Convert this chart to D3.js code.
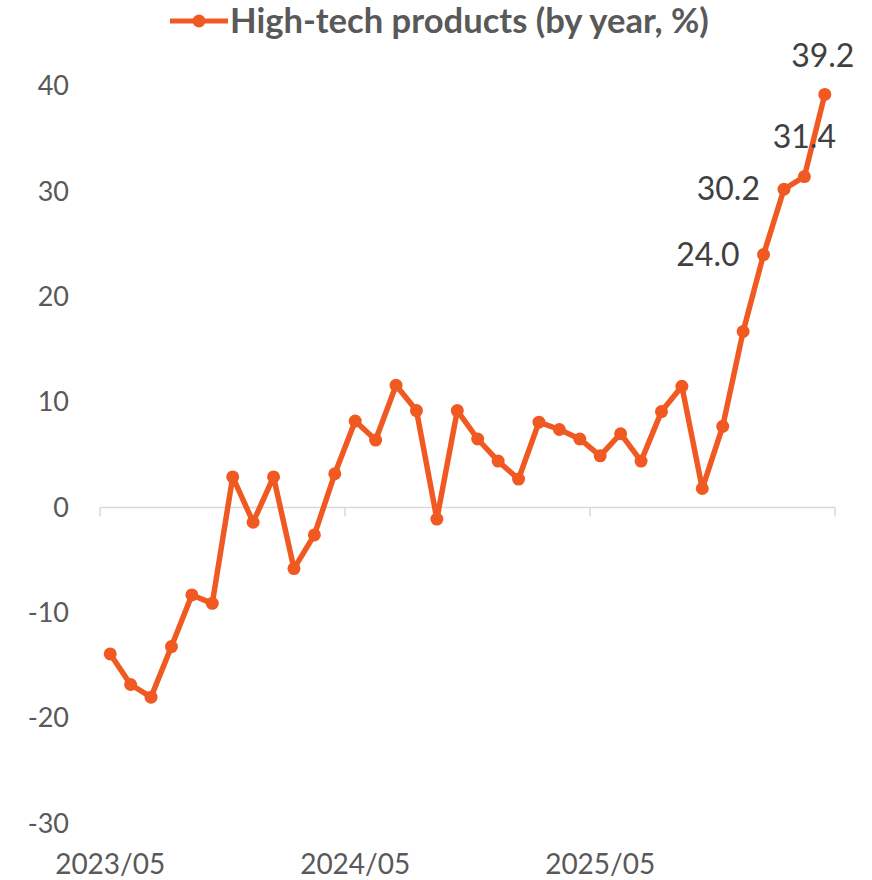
<!DOCTYPE html>
<html>
<head>
<meta charset="utf-8">
<script src="https://cdn.jsdelivr.net/npm/d3@7"></script>
<style>
  body { margin: 0; background: #fff; }
  text { font-family: Lato, "Open Sans", sans-serif; fill: #595959; }
</style>
</head>
<body>
<svg id="chart" width="872" height="880"></svg>
<script>
// categories (monthly)
const months = [
  "2023/05","2023/06","2023/07","2023/08","2023/09","2023/10","2023/11","2023/12",
  "2024/01","2024/02","2024/03","2024/04","2024/05","2024/06","2024/07","2024/08",
  "2024/09","2024/10","2024/11","2024/12","2025/01","2025/02","2025/03","2025/04",
  "2025/05","2025/06","2025/07","2025/08","2025/09","2025/10","2025/11","2025/12",
  "2026/01","2026/02","2026/03","2026/04"
];

// High-tech products, y/y %
const values = [
  -13.9, -16.8, -18.0, -13.2, -8.3, -9.1, 2.9, -1.4,
  2.9, -5.8, -2.6, 3.2, 8.2, 6.4, 11.6, 9.2,
  -1.1, 9.2, 6.5, 4.4, 2.7, 8.1, 7.4, 6.5,
  4.9, 7.0, 4.4, 9.1, 11.5, 1.8, 7.7, 16.7,
  24.0, 30.2, 31.4, 39.2
];

const yTicks = [-30, -20, -10, 0, 10, 20, 30, 40];
const xLabelMonths = ["2023/05", "2024/05", "2025/05"];
const labelled = ["2026/01", "2026/02", "2026/03", "2026/04"];
const seriesName = "High-tech products (by year, %)";

const color = "#F05A22";
const svg = d3.select("#chart");

const x = d3.scaleBand().domain(months).range([100, 835]).padding(0);
const y = d3.scaleLinear().domain([-30, 40]).range([823.6, 86]);
const cx = m => x(m) + x.bandwidth() / 2;

// y axis labels (plain hyphen for negatives, like Excel)
const yAxis = svg.append("g")
  .attr("transform", "translate(69,0)")
  .call(d3.axisLeft(y).tickValues(yTicks).tickSize(0).tickPadding(0)
    .tickFormat(d => String(d)));
yAxis.select(".domain").remove();
yAxis.selectAll("text")
  .style("font-family", "Lato, sans-serif")
  .style("font-size", "27px")
  .attr("fill", "#595959");

// x axis line at zero
const y0 = y(0);
svg.append("line")
  .attr("x1", 100).attr("x2", 835)
  .attr("y1", y0).attr("y2", y0)
  .attr("stroke", "#d9d9d9").attr("stroke-width", 1.5);

// tick marks at band boundaries every 12 months
const tickPos = xLabelMonths.map(m => x(m)).concat([x.range()[1]]);
svg.selectAll(".xtick")
  .data(tickPos)
  .join("line")
  .attr("class", "xtick")
  .attr("x1", d => d).attr("x2", d => d)
  .attr("y1", y0).attr("y2", y0 + 9)
  .attr("stroke", "#d9d9d9").attr("stroke-width", 1.5);

// x labels (at bottom)
svg.selectAll(".xlabel")
  .data(xLabelMonths)
  .join("text")
  .attr("class", "xlabel")
  .attr("x", d => cx(d))
  .attr("y", 874)
  .attr("text-anchor", "middle")
  .style("font-size", "28px")
  .text(d => d);

// line
const line = d3.line()
  .x((d, i) => cx(months[i]))
  .y(d => y(d));

svg.append("path")
  .datum(values)
  .attr("d", line)
  .attr("fill", "none")
  .attr("stroke", color)
  .attr("stroke-width", 5.5)
  .attr("stroke-linejoin", "round");

svg.selectAll(".dot")
  .data(values)
  .join("circle")
  .attr("class", "dot")
  .attr("cx", (d, i) => cx(months[i]))
  .attr("cy", d => y(d))
  .attr("r", 6.5)
  .attr("fill", color);

// data labels for last four months
const labelPlace = {
  "2026/01": { dx: -24, dy: 11, anchor: "end" },
  "2026/02": { dx: -24, dy: 11, anchor: "end" },
  "2026/03": { dx: 0, dy: -29, anchor: "middle" },
  "2026/04": { dx: -2, dy: -27, anchor: "middle" }
};
svg.selectAll(".dlabel")
  .data(labelled)
  .join("text")
  .attr("class", "dlabel")
  .attr("x", m => cx(m) + labelPlace[m].dx)
  .attr("y", m => y(values[months.indexOf(m)]) + labelPlace[m].dy)
  .attr("text-anchor", m => labelPlace[m].anchor)
  .style("font-size", "32px")
  .style("fill", "#404040")
  .text(m => values[months.indexOf(m)].toFixed(1));

// legend
const lg = svg.append("g");
lg.append("line")
  .attr("x1", 170).attr("x2", 228)
  .attr("y1", 21).attr("y2", 21)
  .attr("stroke", color).attr("stroke-width", 5);
lg.append("circle")
  .attr("cx", 199).attr("cy", 21).attr("r", 6.5)
  .attr("fill", color);
lg.append("text")
  .attr("x", 230).attr("y", 33)
  .style("font-size", "34.6px")
  .style("font-weight", "bold")
  .text(seriesName);
</script>
</body>
</html>
